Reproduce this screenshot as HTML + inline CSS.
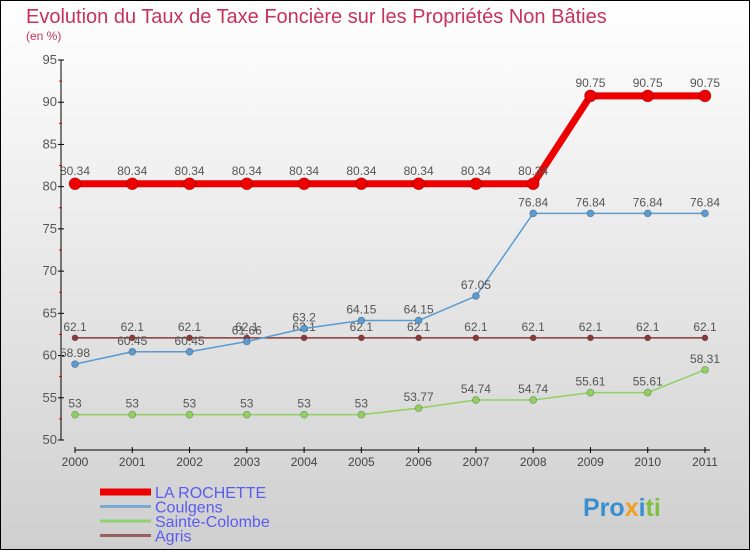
<!DOCTYPE html>
<html><head><meta charset="utf-8"><style>
body{margin:0}
svg{display:block;font-family:"Liberation Sans","DejaVu Sans",sans-serif}
</style></head><body>
<svg id="c" width="750" height="550" xmlns="http://www.w3.org/2000/svg">
<defs><linearGradient id="bg" x1="0" y1="0" x2="0" y2="1"><stop offset="0" stop-color="#ffffff"/><stop offset="1" stop-color="#cfcfcf"/></linearGradient></defs>
<rect x="0.5" y="0.5" width="749" height="549" fill="url(#bg)" stroke="#000"/>
<text x="26" y="23" font-size="20" fill="#c8325a">Evolution du Taux de Taxe Foncière sur les Propriétés Non Bâties</text>
<text x="26" y="40" font-size="12" fill="#c8325a">(en %)</text>
<g id="axes"></g><g id="series"></g><g id="legend"></g>
<text x="583" y="516" font-size="25" font-weight="bold" fill="#3a8fd0">Pro<tspan fill="#f0a020">x</tspan><tspan fill="#3a8fd0">i</tspan><tspan fill="#80c040">ti</tspan></text>
</svg>
<script>
const years=[2000,2001,2002,2003,2004,2005,2006,2007,2008,2009,2010,2011];
const yTicks=[50,55,60,65,70,75,80,85,90,95];
const rochette=[80.34,80.34,80.34,80.34,80.34,80.34,80.34,80.34,80.34,90.75,90.75,90.75];
const coulgens=[58.98,60.45,60.45,61.66,63.2,64.15,64.15,67.05,76.84,76.84,76.84,76.84];
const sainteColombe=[53,53,53,53,53,53,53.77,54.74,54.74,55.61,55.61,58.31];
const agris=[62.1,62.1,62.1,62.1,62.1,62.1,62.1,62.1,62.1,62.1,62.1,62.1];
const NS="http://www.w3.org/2000/svg";
const X=i=>75+i*(630/11);
const Y=v=>440-(v-50)*(380/45);
function mk(t,a,p){const e=document.createElementNS(NS,t);for(const k in a)e.setAttribute(k,a[k]);p.appendChild(e);return e;}
const ax=document.getElementById('axes');
let yl=mk('line',{x1:61,y1:Y(95),x2:61,y2:Y(50),stroke:'#000'},ax);


yTicks.forEach(v=>{
  mk('line',{x1:58,y1:Y(v),x2:64,y2:Y(v),stroke:'#000'},ax);
  if(v<95)mk('line',{x1:59,y1:Y(v+2.5),x2:62,y2:Y(v+2.5),stroke:'#d00'},ax);
  const t=mk('text',{x:57,y:Y(v)+4,'text-anchor':'end','font-size':13,fill:'#555'},ax);
  t.textContent=v;
  
  
});
let xl=mk('line',{x1:X(0),y1:450,x2:X(11)+5,y2:450,stroke:'#000'},ax);


years.forEach((yr,i)=>{
  mk('line',{x1:X(i),y1:447,x2:X(i),y2:453,stroke:'#000'},ax);
  const t=mk('text',{x:X(i),y:466,'text-anchor':'middle','font-size':12,fill:'#444'},ax);
  t.textContent=yr;
  
  
});
const sg=document.getElementById('series');
function series(vals,color,w,r,name,dy){
  const g=mk('g',{},sg);
  
  
  mk('polyline',{points:vals.map((v,i)=>X(i)+','+Y(v)).join(' '),fill:'none',stroke:color,'stroke-width':w,'stroke-linejoin':'round'},g);
  vals.forEach((v,i)=>{
    const c=mk('circle',{cx:X(i),cy:Y(v),r:r,fill:color,stroke:'rgba(0,0,0,0.3)','stroke-width':0.7},g);
    
    
    const t=mk('text',{x:X(i),y:Y(v)+dy,'text-anchor':'middle','font-size':12,fill:'#555'},g);
    t.textContent=String(v);
    
    
  });
}
series(agris,'#8b3a3a',1.5,3,'agris-series',-7);
series(sainteColombe,'#90d060',1.5,3.5,'sainte-colombe-series',-7);
series(coulgens,'#5b9bd0',1.5,3.5,'coulgens-series',-7);
series(rochette,'#ee0000',7,6,'la-rochette-series',-9);
const lg=document.getElementById('legend');
[['LA ROCHETTE','#ee0000',7],['Coulgens','#7aaad0',3],['Sainte-Colombe','#90d070',3],['Agris','#9a6060',3]].forEach((d,i)=>{
  const y=492+i*14.5;
  const g=mk('g',{},lg);
  
  
  mk('line',{x1:100,y1:y,x2:151,y2:y,stroke:d[1],'stroke-width':d[2]},g);
  const t=mk('text',{x:155,y:y+6,'font-size':16,fill:'#5b5bf0'},g);
  t.textContent=d[0];
});
</script>
</body></html>
